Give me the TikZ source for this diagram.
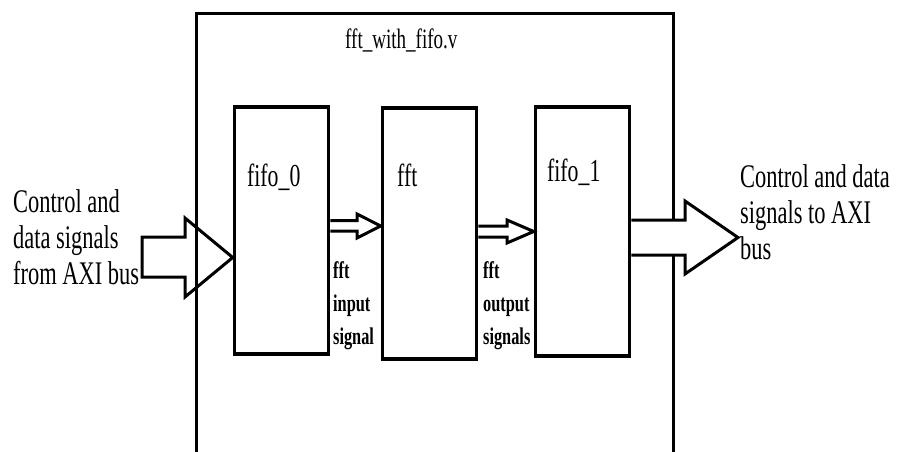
\documentclass[tikz,border=0pt]{standalone}
\usepackage{fontspec}
\setmainfont{Liberation Serif}[FakeStretch=0.68]
\usetikzlibrary{positioning}

\begin{document}
\begin{tikzpicture}[x=1pt, y=-1pt,
    box/.style={draw, line width=3.5pt, inner sep=0pt, minimum width=94pt},
    tag/.style={anchor=base west, inner sep=0pt, font=\fontsize{32}{36}\selectfont},
    lbl/.style={anchor=base west, inner sep=0pt, align=left, font=\fontsize{33}{36}\selectfont},
    sig/.style={anchor=base west, inner sep=0pt, align=left, font=\bfseries\fontsize{24}{33}\selectfont},
    bigarrow/.style={draw, line width=3pt, line join=miter},
    smallarrow/.style={draw, line width=3pt, line join=miter}]
    \useasboundingbox (0,0) rectangle (898,452);
    \clip (0,0) rectangle (898,452);
    % top module
    \node[draw, line width=3pt, inner sep=0pt, minimum width=477pt, minimum height=480pt, anchor=north west] (top) at (195,12) {};
    \node[tag, font=\fontsize{28}{30}\selectfont] (title) at (345,49) {fft\_with\_fifo.v};
    % sub blocks
    \node[box, minimum height=247pt] (fifo0) at (281.5,230.5) {};
    \node[box, minimum height=251pt] (fft) at (429.5,233.5) {};
    \node[box, minimum height=249pt] (fifo1) at (582.5,231.5) {};
    \node[tag] (fifo0lbl) at (247,186) {fifo\_0};
    \node[tag] (fftlbl) at (397,186) {fft};
    \node[tag] (fifo1lbl) at (547,182) {fifo\_1};
    % bus side (base = last line)
    \node[lbl] (src) at (13,284) {Control and\\data signals\\from AXI bus};
    \node[lbl] (dst) at (740,259) {Control and data\\signals to AXI\\bus};
    \node[sig] (insig) at (333,344) {fft\\input\\signal};
    \node[sig] (outsig) at (483,344) {fft\\output\\signals};
    % block arrows
    \draw[bigarrow] (142,237) -- (185,237) -- (185,218) -- (fifo0.west |- 0,257.5)
        -- (185,297) -- (185,277) -- (142,277) -- cycle;
    \draw[bigarrow, fill=white] (fifo1.east |- 0,220) -- (685,220) -- (685,201) -- (738,237.5)
        -- (685,274) -- (685,255) -- (fifo1.east |- 0,255);
    \draw[smallarrow] (fifo0.east |- 0,220.5) -- (357,220.5) -- (357,214) -- (fft.west |- 0,226)
        -- (357,238) -- (357,231) -- (fifo0.east |- 0,231);
    \draw[smallarrow] (fft.east |- 0,226) -- (507,226) -- (507,220) -- (fifo1.west |- 0,231.5)
        -- (507,243) -- (507,237) -- (fft.east |- 0,237);
\end{tikzpicture}
\end{document}
